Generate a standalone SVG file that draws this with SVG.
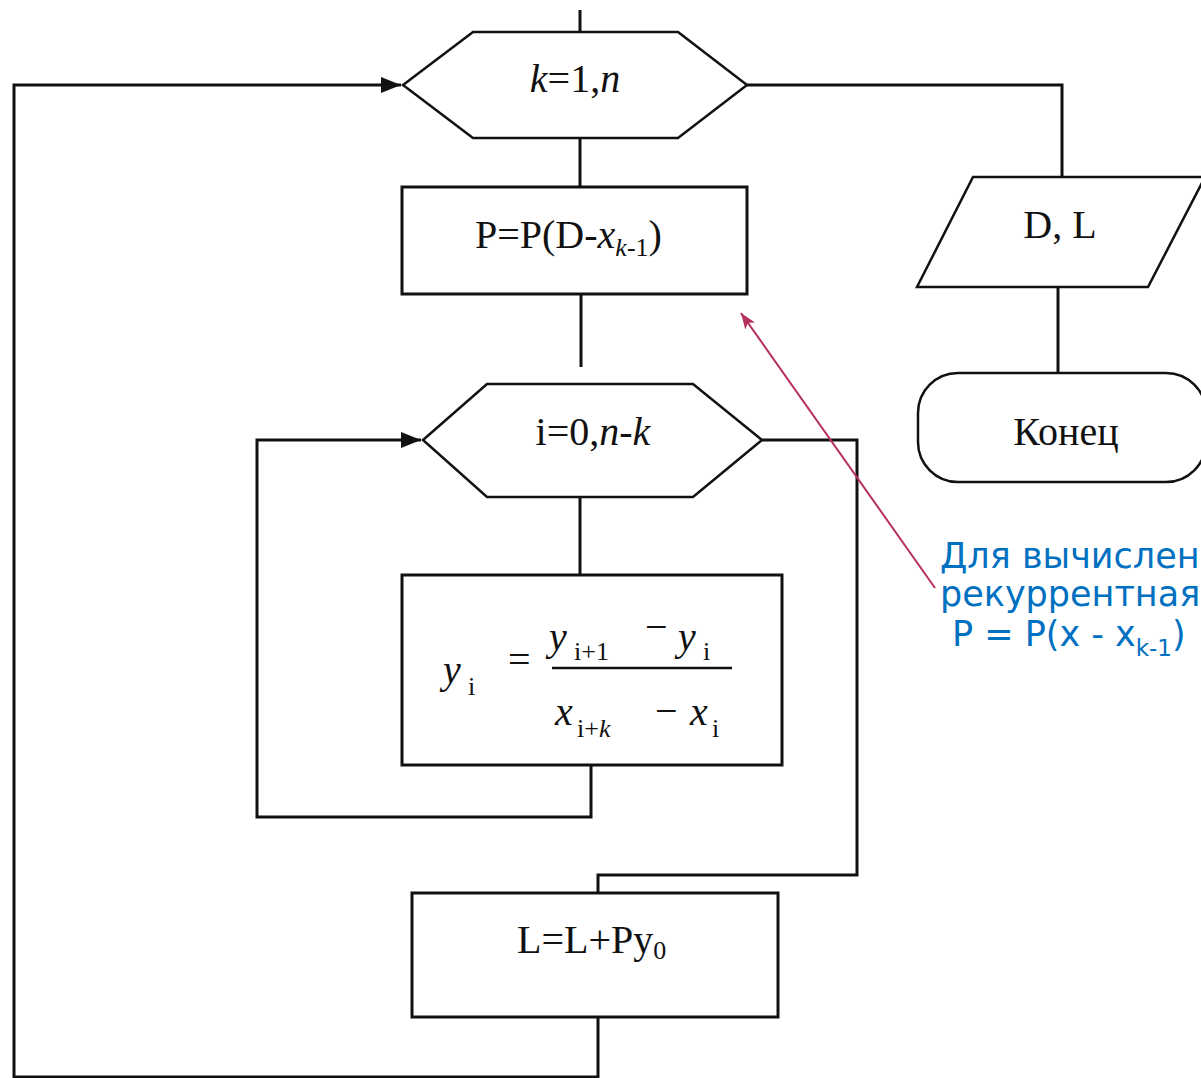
<svg xmlns="http://www.w3.org/2000/svg" width="1201" height="1078" viewBox="0 0 1201 1078">
<style>
.ln{fill:none;stroke:#111;stroke-width:3}
.sh{fill:#fff;stroke:#111;stroke-width:3}
.hx{fill:#fff;stroke:#111;stroke-width:2.5}
.t{font-family:"Liberation Serif","Times New Roman",serif;font-size:40px;fill:#111}
.it{font-style:italic}
.sub{font-size:26px}
.note{font-family:"DejaVu Sans","Noto Sans",sans-serif;font-size:35px;fill:#0070C0}
</style>
<defs>
<marker id="ah" viewBox="0 0 20 16" refX="20" refY="8" markerWidth="20" markerHeight="16" markerUnits="userSpaceOnUse" orient="auto">
<path d="M0,0 L20,8 L0,16 Z" fill="#111"/>
</marker>
<marker id="rh" viewBox="0 0 16 12" refX="16" refY="6" markerWidth="16" markerHeight="12" markerUnits="userSpaceOnUse" orient="auto">
<path d="M0,0 L16,6 L0,12 L4,6 Z" fill="#B5305C"/>
</marker>
</defs>
<rect width="1201" height="1078" fill="#fff"/>
<g id="connectors">
<path class="ln" d="M580,10 V32"/>
<path class="ln" d="M14,1078 V85 H401" marker-end="url(#ah)"/>
<path class="ln" d="M747,85 H1062 V177"/>
<path class="ln" d="M580,138 V187"/>
<path class="ln" d="M581,294 V367"/>
<path class="ln" d="M580,497 V574"/>
<path class="ln" d="M591,765 V817 H257 V440 H421" marker-end="url(#ah)"/>
<path class="ln" d="M762,440 H857 V875 H598 V893"/>
<path class="ln" d="M598,1017 V1077 H14"/>
<path class="ln" d="M1058,287 V373"/>
<path d="M935,588 L741,313" fill="none" stroke="#B5305C" stroke-width="2" marker-end="url(#rh)"/>
</g>
<g id="loop-k">
<polygon class="hx" points="403,85 473,32 678,32 747,85 678,138 473,138"/>
<text class="t" x="575" y="92" text-anchor="middle"><tspan class="it">k</tspan>=1,<tspan class="it">n</tspan></text>
</g>
<g id="calc-p">
<rect class="sh" x="402" y="187" width="345" height="107"/>
<text class="t" x="475" y="248">P=P(D-<tspan class="it">x</tspan><tspan class="sub" dy="8"><tspan class="it">k</tspan>-1</tspan><tspan dy="-8">)</tspan></text>
</g>
<g id="loop-i">
<polygon class="hx" points="423,440 487,384 693,384 762,440 693,497 487,497"/>
<text class="t" x="593" y="445" text-anchor="middle">i=0,<tspan class="it">n</tspan>-<tspan class="it">k</tspan></text>
</g>
<g id="calc-y">
<rect class="sh" x="402" y="575" width="380" height="190"/>
<text class="t it" x="443" y="683" font-size="50">y</text>
<text class="t sub" x="468" y="695">i</text>
<text class="t" x="508" y="673">=</text>
<text class="t it" x="549" y="650" font-size="50">y</text>
<text class="t sub" x="574" y="660">i+1</text>
<text class="t" x="645" y="640">−</text>
<text class="t it" x="678" y="650" font-size="50">y</text>
<text class="t sub" x="703" y="660">i</text>
<line x1="552" y1="668" x2="732" y2="668" stroke="#111" stroke-width="2.5"/>
<text class="t it" x="555" y="725" font-size="48">x</text>
<text class="t sub" x="577" y="737">i+<tspan class="it">k</tspan></text>
<text class="t" x="655" y="724">−</text>
<text class="t it" x="690" y="725" font-size="48">x</text>
<text class="t sub" x="712" y="737">i</text>
</g>
<g id="calc-l">
<rect class="sh" x="412" y="893" width="366" height="124"/>
<text class="t" x="517" y="953">L=L+Py<tspan class="sub" dy="6">0</tspan></text>
</g>
<g id="output">
<polygon class="hx" points="973,177 1205,177 1148,287 917,287"/>
<text class="t" x="1060" y="238" text-anchor="middle">D, L</text>
</g>
<g id="end">
<rect class="hx" x="918" y="373" width="288" height="109" rx="40" ry="40"/>
<text class="t" x="1066" y="445" text-anchor="middle" font-size="42">Конец</text>
</g>
<g id="note">
<text class="note" x="940" y="568">Для вычисления</text>
<text class="note" x="940" y="606">рекуррентная</text>
<text class="note" x="952" y="646">P = P(x - x<tspan font-size="23" dy="10">k-1</tspan><tspan dy="-10">)</tspan></text>
</g>
</svg>
